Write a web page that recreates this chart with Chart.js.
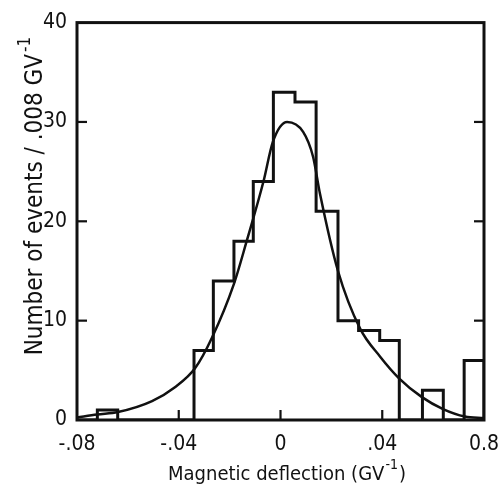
<!DOCTYPE html>
<html><head><meta charset="utf-8">
<script src="https://cdn.jsdelivr.net/npm/chart.js@4.4.1/dist/chart.umd.min.js"></script>
<style>html,body{margin:0;padding:0;background:#fff;}</style>
</head><body>
<canvas id="c" width="500" height="487"></canvas>
<script>
// ---- data ----
const binEdges = [-0.08,-0.072,-0.064,-0.034,-0.0264,-0.0183,-0.0107,-0.0028,0.0057,0.014,0.0226,0.0307,0.039,0.0467,0.0558,0.064,0.0722,0.08];
const counts   = [0,1,0,7,14,18,24,33,32,21,10,9,8,0,3,0,6];
const curveX = [-0.08,-0.0721,-0.0639,-0.0505,-0.0415,-0.0336,-0.0269,-0.0183,-0.0133,-0.0067,-0.003,0.0026,0.0089,0.0128,0.0155,0.0226,0.0313,0.0391,0.0466,0.0556,0.0639,0.0725,0.08];
const curveY = [0.25,0.55,0.8,1.9,3.3,5.2,8.3,13.7,18,24,28,30,29,26.5,22.8,15,9.2,6.4,4.2,2.3,1.1,0.35,0.2];
const xTickLabels = {"-8":"-.08","-4":"-.04","0":"0","4":".04","8":"0.8"};
const yTicks = [0,10,20,30,40];
const xTitle = "Magnetic deflection (GV";
const yTitle = "Number of events / .008 GV";
const supText = "-1";

const FONT = '"Liberation Sans Narrow","DejaVu Sans Condensed","Liberation Sans",sans-serif';
const INK = '#111';

const histPts = binEdges.slice(0,-1).map((e,i)=>({x:e,y:counts[i]}));
histPts.push({x:binEdges[binEdges.length-1], y:counts[counts.length-1]});
histPts.push({x:binEdges[binEdges.length-1], y:0});
const curvePts = curveX.map((x,i)=>({x:x,y:curveY[i]}));

const framePlugin = {
  id:'frame',
  afterDraw(chart){
    const {ctx, chartArea:a, scales:{x,y}} = chart;
    ctx.save();
    ctx.strokeStyle = INK; ctx.fillStyle = INK;
    ctx.lineWidth = 3;
    ctx.strokeRect(a.left, a.top, a.right-a.left, a.bottom-a.top);
    ctx.lineWidth = 2.2;
    const ln=(x1,y1,x2,y2)=>{ctx.beginPath();ctx.moveTo(x1,y1);ctx.lineTo(x2,y2);ctx.stroke();};
    y.ticks.forEach(t=>{
      if (t.value<=y.min || t.value>=y.max) return;
      const py = y.getPixelForValue(t.value);
      ln(a.left,py,a.left+10,py); ln(a.right-10,py,a.right,py);
    });
    x.ticks.forEach(t=>{
      if (t.value<=x.min+1e-9 || t.value>=x.max-1e-9) return;
      const px = x.getPixelForValue(t.value);
      ln(px,a.bottom,px,a.bottom-10);
    });
    // x title with superscript
    const big = '20px '+FONT, small = '14px '+FONT;
    ctx.textBaseline = 'alphabetic'; ctx.textAlign = 'left';
    ctx.font = big; const w1 = ctx.measureText(xTitle).width; const w3 = ctx.measureText(')').width;
    ctx.font = small; const w2 = ctx.measureText(supText).width;
    let sx = 287 - (w1+w2+w3+2)/2, by = 480;
    ctx.font = big; ctx.fillText(xTitle, sx, by);
    ctx.font = small; ctx.fillText(supText, sx+w1+1, by-11);
    ctx.font = big; ctx.fillText(')', sx+w1+w2+2, by);
    // y title rotated
    ctx.save();
    ctx.translate(42, 196);
    ctx.rotate(-Math.PI/2);
    const ybig = '24px '+FONT, ysmall = '17px '+FONT;
    ctx.font = ybig; const v1 = ctx.measureText(yTitle).width;
    ctx.font = ysmall; const v2 = ctx.measureText(supText).width;
    const s0 = -(v1+v2+2)/2;
    ctx.font = ybig; ctx.fillText(yTitle, s0, 0);
    ctx.font = ysmall; ctx.fillText(supText, s0+v1+2, -12);
    ctx.restore();
    ctx.restore();
  }
};

new Chart(document.getElementById('c'), {
  type:'line',
  data:{datasets:[
    {data:histPts, borderColor:INK, borderWidth:3, stepped:true, pointRadius:0, fill:false, tension:0},
    {data:curvePts, borderColor:INK, borderWidth:2.5, pointRadius:0, fill:false, tension:0.4, cubicInterpolationMode:'monotone'}
  ]},
  options:{
    responsive:false, animation:false, devicePixelRatio:1,
    layout:{padding:{left:0,right:16,top:19,bottom:0}},
    plugins:{legend:{display:false}, tooltip:{enabled:false}},
    scales:{
      x:{type:'linear', min:-0.08, max:0.08,
        ticks:{stepSize:0.04, autoSkip:false, maxRotation:0, padding:12, color:INK, font:{family:FONT,size:21},
          callback:(v)=>xTickLabels[String(Math.round(v*100))] ?? ''},
        grid:{display:false, drawTicks:false}, border:{display:false},
        afterFit(s){ s.height = 67; s.paddingLeft = 0; s.paddingRight = 0; }},
      y:{min:0, max:40,
        afterBuildTicks(s){ s.ticks = yTicks.map(v=>({value:v})); },
        ticks:{padding:10, color:INK, font:{family:FONT,size:21}},
        grid:{display:false, drawTicks:false}, border:{display:false},
        afterFit(s){ s.width = 77; }}
    }
  },
  plugins:[framePlugin]
});
</script>
</body></html>
